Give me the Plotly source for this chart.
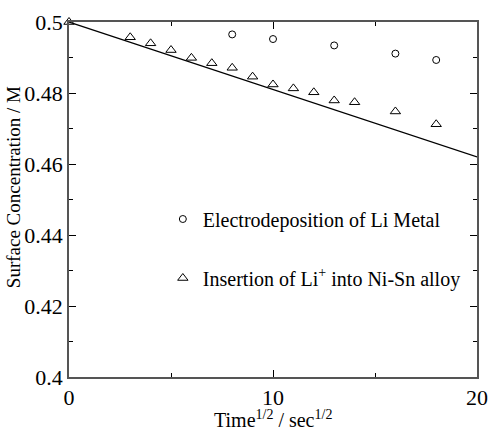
import plotly.graph_objects as go

# Electrodeposition of Li metal (open circles)
t_metal = [8, 10, 13, 16, 18]
c_metal = [0.4965, 0.4952, 0.4934, 0.4911, 0.4893]

# Insertion of Li+ into Ni-Sn alloy (open triangles)
t_alloy = [0, 3, 4, 5, 6, 7, 8, 9, 10, 11, 12, 13, 14, 16, 18]
c_alloy = [0.5, 0.4957, 0.4940, 0.4921, 0.4899, 0.4884, 0.4871, 0.4846,
           0.4824, 0.4813, 0.4802, 0.4779, 0.4774, 0.4748, 0.4712]

# Calculated surface concentration (straight line)
t_calc = [0, 20]
c_calc = [0.5, 0.462]

y_ticks = [0.4, 0.42, 0.44, 0.46, 0.48, 0.5]
y_ticktext = ["0.4", "0.42", "0.44", "0.46", "0.48", "0.5"]
x_ticks = [0, 10, 20]
x_ticktext = ["0", "10", "20"]

FONT = "Liberation Serif"
AX = "#555555"

fig = go.Figure()
fig.add_trace(go.Scatter(
    x=t_calc, y=c_calc, mode="lines", showlegend=False,
    line=dict(color="black", width=1.2), cliponaxis=False))
fig.add_trace(go.Scatter(
    x=t_metal, y=c_metal, mode="markers", name="Electrodeposition of Li Metal",
    legendgroup="a",
    marker=dict(symbol="circle-open", size=7, color="black", line=dict(width=1)),
    cliponaxis=False))
fig.add_trace(go.Scatter(
    x=t_alloy, y=c_alloy, mode="markers", name="Insertion of Li<sup>+</sup> into Ni-Sn alloy",
    legendgroup="b",
    marker=dict(symbol="triangle-up-open", size=9, color="black", line=dict(width=1)),
    cliponaxis=False))

tickstyle = dict(ticks="inside", tickcolor="black", tickwidth=1, ticklen=7,
                 showline=True, linecolor=AX, linewidth=1.5, mirror="ticks",
                 showgrid=False, zeroline=False, automargin=False,
                 tickfont=dict(family=FONT, size=22, color="black"))

fig.update_layout(
    template="none",
    width=489, height=429,
    margin=dict(l=69, r=12, t=22, b=52),
    plot_bgcolor="white", paper_bgcolor="white",
    font=dict(family=FONT, color="black", size=20),
    showlegend=True,
    legend=dict(x=0.23, y=0.5, xanchor="left", yanchor="top",
                bgcolor="rgba(0,0,0,0)", tracegroupgap=30,
                font=dict(family=FONT, size=20, color="black")),
    xaxis=dict(
        range=[0, 20], tickmode="array", tickvals=x_ticks, ticktext=x_ticktext,
        minor=dict(ticks="inside", dtick=5, tick0=0, ticklen=4,
                   tickcolor="black", showgrid=False),
        **tickstyle),
    yaxis=dict(
        range=[0.4, 0.5], tickmode="array", tickvals=y_ticks, ticktext=y_ticktext,
        minor=dict(ticks="inside", dtick=0.01, tick0=0.4, ticklen=4,
                   tickcolor="black", showgrid=False),
        **tickstyle),
    annotations=[
        dict(text="Time<sup>1/2</sup> / sec<sup>1/2</sup>", xref="paper", yref="paper",
             x=0.501, y=-0.117, xanchor="center", yanchor="middle", showarrow=False,
             font=dict(family=FONT, size=20, color="black")),
        dict(text="Surface Concentration / M", xref="paper", yref="paper",
             x=-0.137, y=0.535, xanchor="center", yanchor="middle", showarrow=False,
             textangle=-90, font=dict(family=FONT, size=19, color="black")),
    ],
)

fig.write_html("out.html")
